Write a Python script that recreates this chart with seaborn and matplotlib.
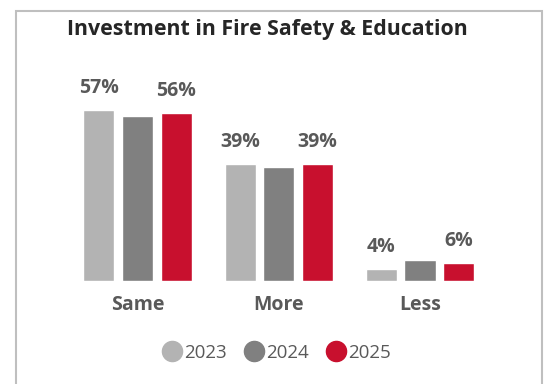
import matplotlib
matplotlib.use("Agg")
import matplotlib.pyplot as plt
from matplotlib.lines import Line2D
from matplotlib.patches import Rectangle
import seaborn as sns
import pandas as pd

# Survey responses by year
categories = ["Same", "More", "Less"]
years = ["2023", "2024", "2025"]
values_2023 = [57, 39, 4]
values_2024 = [55, 38, 7]
values_2025 = [56, 39, 6]
labelled_years = ["2023", "2025"]

palette = {"2023": "#B3B3B3", "2024": "#808080", "2025": "#C8102E"}
text_color = "#595959"

rows = []
for year, vals in zip(years, [values_2023, values_2024, values_2025]):
    for cat, v in zip(categories, vals):
        rows.append({"Category": cat, "Year": year, "Share": v})
df = pd.DataFrame(rows)

sns.set_theme(style="white")
plt.rcParams["font.family"] = ["Open Sans", "DejaVu Sans"]

W, H = 548, 384
fig = plt.figure(figsize=(W / 100, H / 100), dpi=100)

# Outer frame (extends past the bottom edge)
fig.patches.append(Rectangle((16 / W, -0.1), (542 - 16) / W, 1.1 - 11 / H,
                             transform=fig.transFigure, fill=False,
                             edgecolor="#BFBFBF", linewidth=1.5))

ax_left, ax_w = 66.9 / W, 423.75 / W
ax_bottom = 1 - 281 / H
ax_h = 209.6 / H
ax = fig.add_axes([ax_left, ax_bottom, ax_w, ax_h])

sns.barplot(data=df, x="Category", y="Share", hue="Year", order=categories,
            hue_order=years, palette=palette, width=0.82, gap=0.195,
            saturation=1, ax=ax, legend=False)

ax.set_ylim(0, 70)
ax.set_xlim(-0.5, 2.5)
ax.set_xlabel("")
ax.set_ylabel("")
ax.set_yticks([])
ax.tick_params(axis="x", length=0, pad=10)
for lbl in ax.get_xticklabels():
    lbl.set_fontweight("bold")
    lbl.set_fontsize(14)
    lbl.set_color(text_color)
for s in ax.spines.values():
    s.set_visible(False)

for container, year in zip(ax.containers, years):
    if year in labelled_years:
        ax.bar_label(container, labels=[f"{int(v)}%" for v in container.datavalues],
                     padding=9, fontsize=14, fontweight="bold", color=text_color)

fig.text(0.488, 1 - 30 / H, "Investment in Fire Safety & Education",
         ha="center", va="center", fontsize=15.4, fontweight="bold", color="#262626")

handles = [Line2D([0], [0], marker="o", linestyle="", markersize=14.5,
                  markerfacecolor=palette[y], markeredgecolor=palette[y]) for y in years]
leg = fig.legend(handles, years, loc="center", bbox_to_anchor=(0.503, 1 - 353 / H),
                 ncol=3, frameon=False, handletextpad=0.05, columnspacing=0.85,
                 fontsize=13.5, handlelength=1.2)
for t in leg.get_texts():
    t.set_color(text_color)

fig.savefig("out.png", dpi=100)
